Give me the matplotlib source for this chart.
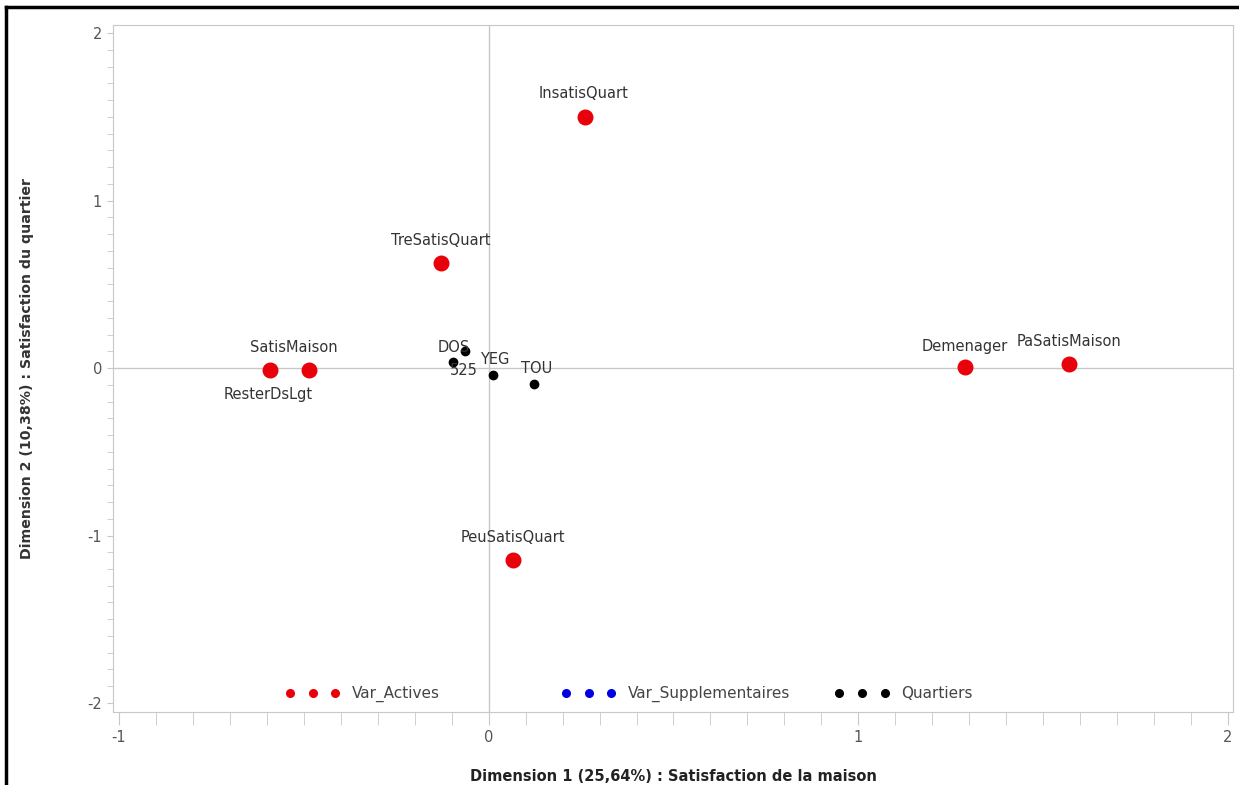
import matplotlib.pyplot as plt
from matplotlib.legend import Legend
from matplotlib.lines import Line2D
from matplotlib.ticker import MultipleLocator

plt.rcParams['font.family'] = ['DejaVu Sans']

# active variables (red)
act_labels = ['InsatisQuart', 'TreSatisQuart', 'SatisMaison', 'ResterDsLgt',
              'Demenager', 'PaSatisMaison', 'PeuSatisQuart']
act_x = [0.26, -0.129, -0.486, -0.592, 1.288, 1.570, 0.066]
act_y = [1.50, 0.627, -0.01, -0.01, 0.006, 0.024, -1.146]
# label offsets in points
act_off = [(-1, 16.5), (0, 16), (-11, 16), (-1, -18), (0, 15), (0, 16.5), (0, 16)]

# quartiers (black)
q_labels = ['DOS', '525', 'YEG', 'TOU']
q_x = [-0.064, -0.097, 0.012, 0.123]
q_y = [0.10, 0.036, -0.042, -0.096]
q_off = [(-8, 3), (8, -6), (1, 11), (2, 11)]

legend_names = ['Var_Actives', 'Var_Supplementaires', 'Quartiers']
legend_colors = ['#e8000b', '#0000e0', 'black']

fig = plt.figure(figsize=(12.39, 7.85), dpi=100)
ax = fig.add_axes([0.0912, 0.093, 0.904, 0.875])

ax.axhline(0, color='#c8c8c8', lw=1, zorder=1)
ax.axvline(0, color='#c8c8c8', lw=1, zorder=1)

ax.scatter(act_x, act_y, s=110, color='#e8000b', zorder=3)
for lab, x, y, off in zip(act_labels, act_x, act_y, act_off):
    ax.annotate(lab, (x, y), xytext=off, textcoords='offset points',
                ha='center', va='center', fontsize=10.5, color='#333333')

ax.scatter(q_x, q_y, s=36, color='black', zorder=3)
for lab, x, y, off in zip(q_labels, q_x, q_y, q_off):
    ax.annotate(lab, (x, y), xytext=off, textcoords='offset points',
                ha='center', va='center', fontsize=10.5, color='#333333')

ax.set_xlim(-1.016, 2.0135)
ax.set_ylim(-2.054, 2.048)
ax.xaxis.set_major_locator(MultipleLocator(1))
ax.yaxis.set_major_locator(MultipleLocator(1))
ax.xaxis.set_minor_locator(MultipleLocator(0.1))
ax.yaxis.set_minor_locator(MultipleLocator(0.1))
ax.xaxis.set_major_formatter(lambda v, p: f'{v:g}')
ax.yaxis.set_major_formatter(lambda v, p: f'{v:g}')
ax.tick_params(axis='x', which='both', length=9, color='#c8c8c8',
               labelsize=10.5, labelcolor='#555555', pad=4)
ax.tick_params(axis='y', which='both', length=4, color='#c8c8c8',
               labelsize=10.5, labelcolor='#555555', pad=4)
for sp in ax.spines.values():
    sp.set_color('#c8c8c8')

ax.set_xlabel('Dimension 1 (25,64%) : Satisfaction de la maison',
              fontsize=10.5, fontweight='bold', color='#222222', labelpad=17)
ax.set_ylabel('Dimension 2 (10,38%) : Satisfaction du quartier',
              fontsize=10.2, fontweight='bold', color='#333333', labelpad=38)

# legend: three equal-width entries inside the plot
anchors = [0.1536, 0.400, 0.644]
for name, col, ax_x in zip(legend_names, legend_colors, anchors):
    h = Line2D([], [], ls='none', marker='o', markersize=5.5, color=col)
    leg = Legend(ax, [h], [name], numpoints=3, loc='center left',
                 bbox_to_anchor=(ax_x, 0.0262), frameon=False,
                 borderpad=0, borderaxespad=0, handlelength=3.6,
                 handletextpad=0.75, fontsize=11, labelcolor='#444444')
    ax.add_artist(leg)

# black frame on top and left of image
fig.add_artist(Line2D([0.005, 1], [0.991, 0.991], color='black', lw=2.5))
fig.add_artist(Line2D([0.005, 0.005], [0, 0.991], color='black', lw=2.5))

fig.savefig('out.png', dpi=100)
